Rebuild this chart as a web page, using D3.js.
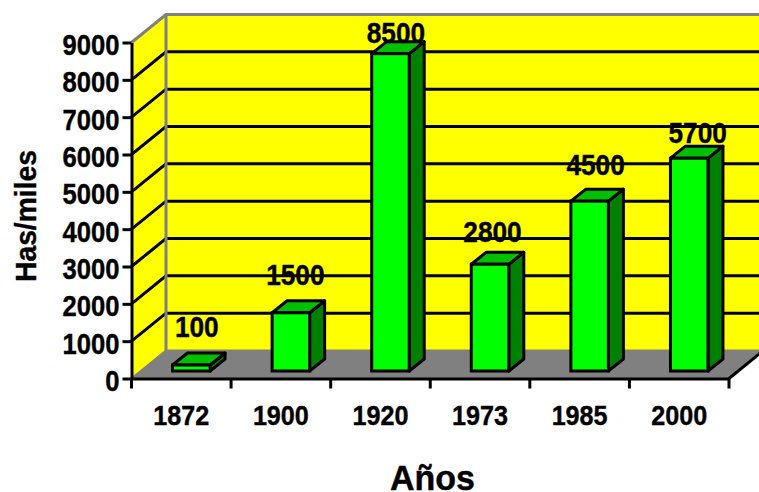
<!DOCTYPE html>
<html><head><meta charset="utf-8">
<script src="https://cdn.jsdelivr.net/npm/d3@7"></script>
<style>
html,body{margin:0;padding:0;background:#fff;overflow:hidden}
text{font-family:"Liberation Sans",Arial,sans-serif;font-weight:bold;fill:#000;stroke:#000;stroke-width:.4}
.axis path,.axis line{stroke:#000;stroke-width:3}
</style></head><body><svg id="c" width="759" height="492"></svg>
<script>
const categories=["1872","1900","1920","1973","1985","2000"];
const valueLabels=[100,1500,8500,2800,4500,5700];
// bar heights (the printed labels are hand-placed in the original)
const barHeights=[160,1560,8500,2860,4550,5700];
const yTicks=[0,1000,2000,3000,4000,5000,6000,7000,8000,9000];

const W=759,H=492;
const x0=131.5,x1=729,yB=378.5,yT=42.5;
const dx=34.5,dy=-28;           // wall depth
const bx=10,by=-7.5;            // bar front offset from the floor's front edge
const ddx=15,ddy=-12;           // bar depth
const barW=37.5;
// label nudges relative to the bar's centre and rear top edge
const labelDx=[5.5,4.5,5.5,2.5,6,8.5];
const labelGap=[16,16,-1,10,14,3];

const svg=d3.select("#c");
const x=d3.scaleBand().domain(categories).range([x0,x1]);
const y=d3.scaleLinear().domain([0,9000]).range([yB,yT]);
const line=d3.line();
const fit=(sel,perChar)=>sel.attr("textLength",function(){return this.textContent.length*perChar;}).attr("lengthAdjust","spacingAndGlyphs");

// side wall + back wall
svg.append("path").attr("d",line([[x0,yT],[x0+dx,yT+dy],[x0+dx,yB+dy],[x0,yB]])+"Z").attr("fill","#ffff00");
svg.append("rect").attr("x",x0+dx).attr("y",yT+dy).attr("width",W-x0-dx+5).attr("height",yB-yT).attr("fill","#ffff00");
// floor
svg.append("path").attr("d",line([[x0,yB],[x0+dx,yB+dy],[x1+dx,yB+dy],[x1,yB]])+"Z").attr("fill","#808080");
// grid
yTicks.filter(d=>d>0&&d<9000).forEach(d=>{
  const p=y(d);
  svg.append("path").attr("d",line([[x0,p],[x0+dx,p+dy],[W+5,p+dy]])).attr("fill","none").attr("stroke","#000").attr("stroke-width",3);
});
// wall frame
svg.append("path").attr("d",line([[x0,yT],[x0+dx,yT+dy],[W+5,yT+dy]])).attr("fill","none").attr("stroke","#808080").attr("stroke-width",3);
svg.append("path").attr("d",line([[x0+dx,yT+dy],[x0+dx,yB+dy]])).attr("fill","none").attr("stroke","#808080").attr("stroke-width",3);
svg.append("path").attr("d",line([[x0,yB],[x0+dx,yB+dy],[W+5,yB+dy]])).attr("fill","none").attr("stroke","#808080").attr("stroke-width",2);
svg.append("path").attr("d",line([[x1,yB],[x1+dx,yB+dy]])).attr("fill","none").attr("stroke","#000").attr("stroke-width",3);

// bars
const rows=categories.map((c,i)=>({c,i,h:barHeights[i],label:valueLabels[i]}));
const g=svg.selectAll("g.bar").data(rows).enter().append("g").attr("class","bar");
const barLeft=d=>x(d.c)+x.bandwidth()/2+bx-barW/2;
const barTop=d=>y(d.h)+by;
const bot=yB+by;
g.append("path").attr("d",d=>line([[barLeft(d)+barW,barTop(d)],[barLeft(d)+barW+ddx,barTop(d)+ddy],[barLeft(d)+barW+ddx,bot+ddy],[barLeft(d)+barW,bot]])+"Z")
  .attr("fill","#008000").attr("stroke","#000").attr("stroke-width",3).attr("stroke-linejoin","round");
g.append("path").attr("d",d=>line([[barLeft(d),barTop(d)],[barLeft(d)+ddx,barTop(d)+ddy],[barLeft(d)+barW+ddx,barTop(d)+ddy],[barLeft(d)+barW,barTop(d)]])+"Z")
  .attr("fill","#00c000").attr("stroke","#000").attr("stroke-width",3).attr("stroke-linejoin","round");
g.append("rect").attr("x",barLeft).attr("y",barTop).attr("width",barW).attr("height",d=>bot-barTop(d))
  .attr("fill","#00ff00").attr("stroke","#000").attr("stroke-width",3);
g.append("text").attr("x",d=>barLeft(d)+barW/2+labelDx[d.i]).attr("y",d=>barTop(d)+ddy-labelGap[d.i]).attr("text-anchor","middle")
  .attr("font-size",30).text(d=>d.label).call(fit,14.6);

// axes
const ay=svg.append("g").attr("class","axis").attr("transform",`translate(${x0},0)`)
  .call(d3.axisLeft(y).tickValues(yTicks).tickFormat(d3.format("d")).tickSize(9).tickSizeOuter(0));
ay.selectAll("text").attr("font-size",30).attr("x",-12).attr("dy",12).call(fit,14.25);
const ax=svg.append("g").attr("class","axis").attr("transform",`translate(0,${yB})`)
  .call(d3.axisBottom(x).tickSize(0).tickSizeOuter(0));
ax.selectAll("text").attr("font-size",28).attr("y",46.5).attr("dy",0).call(fit,14);
ax.selectAll(".tick line").remove();
ax.selectAll("line.t").data([...categories.map(c=>x(c)),x1]).enter().append("line").attr("class","t")
  .attr("x1",d=>d).attr("x2",d=>d).attr("y1",0).attr("y2",10);
d3.selectAll(".axis text").style("font-family",'"Liberation Sans",Arial,sans-serif').style("font-weight","bold").style("stroke-width",".4");

// titles
svg.append("text").attr("transform","translate(36,216) rotate(-90)").attr("text-anchor","middle").attr("font-size",30).attr("textLength",132).attr("lengthAdjust","spacingAndGlyphs").text("Has/miles");
svg.append("text").attr("x",432.5).attr("y",490).attr("text-anchor","middle").attr("font-size",35).attr("textLength",85).attr("lengthAdjust","spacingAndGlyphs").text("Años");
</script></body></html>
